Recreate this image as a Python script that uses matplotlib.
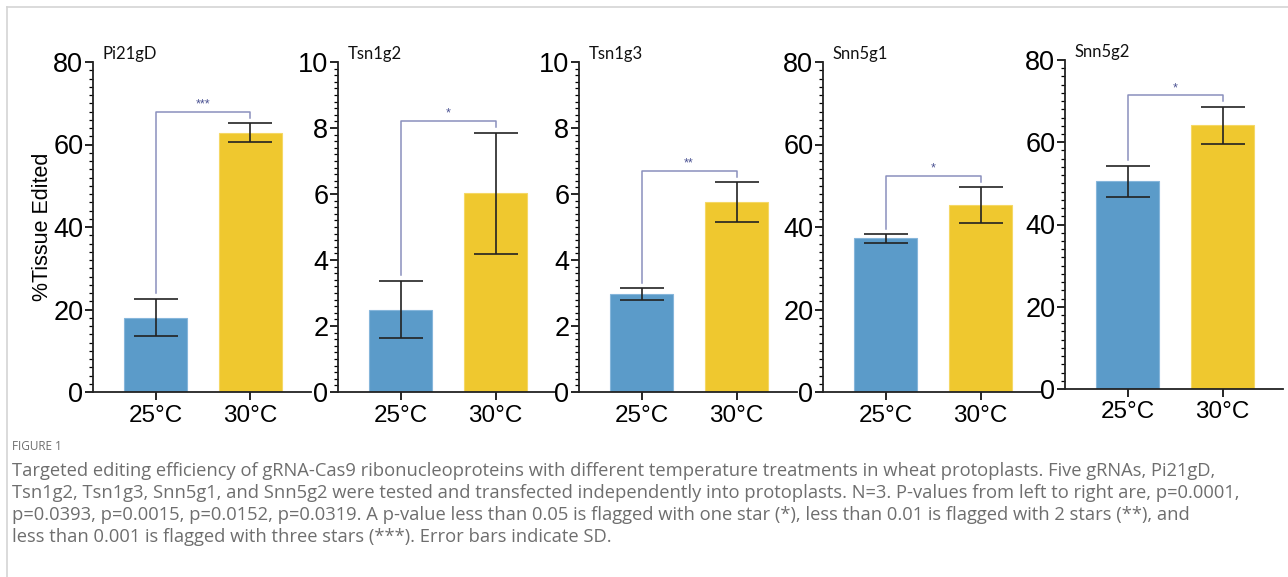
import numpy as np
import matplotlib.pyplot as plt
from matplotlib.ticker import MultipleLocator

# data
genes = ["Pi21gD", "Tsn1g2", "Tsn1g3", "Snn5g1", "Snn5g2"]
temps = ["25°C", "30°C"]
mean_25 = [18.0, 2.5, 2.96, 37.3, 50.5]
mean_30 = [62.8, 6.02, 5.76, 45.3, 64.1]
sd_25 = [4.5, 0.87, 0.18, 1.1, 3.7]
sd_30 = [2.3, 1.84, 0.6, 4.3, 4.45]
ymax = [80, 10, 10, 80, 80]
ymajor = [20, 2, 2, 20, 20]
stars = ["***", "*", "**", "*", "*"]
# bracket: left foot, top, right foot
br_left = [23.9, 3.55, 3.31, 39.5, 55.7]
br_top = [68.0, 8.22, 6.7, 52.4, 71.4]
br_right = [66.4, 8.04, 6.52, 51.0, 70.0]

blue = "#5b9bc9"
yellow = "#efc82f"

W, H = 1288, 577
fig = plt.figure(figsize=(W / 100, H / 100), dpi=100)
plt.rcParams['font.family'] = ['Liberation Sans', 'DejaVu Sans']

# frame lines of the page
fig.add_artist(plt.Line2D([7 / W, 1], [1 - 7 / H, 1 - 7 / H], color="#d4d4d4", lw=1.2))
fig.add_artist(plt.Line2D([7 / W, 7 / W], [0, 1 - 7 / H], color="#d4d4d4", lw=1.2))

lefts = [93, 338, 579, 823, 1065]
tops = [62, 62, 62, 62, 60]
bots = [392, 392, 392, 392, 389]
aw = 218
unit = 95.0
x0 = -62.5 / unit
x1 = (aw - 62.5) / unit

for i, g in enumerate(genes):
    ax = fig.add_axes([lefts[i] / W, 1 - bots[i] / H, aw / W, (bots[i] - tops[i]) / H])
    xs = np.arange(2)
    ax.bar(xs, [mean_25[i], mean_30[i]], width=0.66, color=[blue, yellow],
           edgecolor=["#86b6db", "#f5d865"], linewidth=0.8, zorder=2)
    ax.errorbar(xs, [mean_25[i], mean_30[i]], yerr=[sd_25[i], sd_30[i]], fmt="none",
                ecolor="#222222", elinewidth=1.2, capsize=16, capthick=1.2, zorder=3)
    ax.plot([0, 0, 1, 1], [br_left[i], br_top[i], br_top[i], br_right[i]],
            color="#8a90bd", lw=1.1, zorder=4)
    ax.text(0.5, br_top[i] + ymax[i] * 0.004, stars[i], ha="center", va="bottom",
            fontsize=9, color="#4b5292")
    ax.set_xlim(x0, x1)
    ax.set_ylim(0, ymax[i])
    ax.yaxis.set_major_locator(MultipleLocator(ymajor[i]))
    ax.yaxis.set_minor_locator(MultipleLocator(ymajor[i] / 10))
    ax.set_xticks(xs)
    ax.set_xticklabels(temps)
    for s in ["top", "right"]:
        ax.spines[s].set_visible(False)
    for s in ["left", "bottom"]:
        ax.spines[s].set_linewidth(1.3)
        ax.spines[s].set_color("#222222")
    ax.tick_params(axis="y", which="major", length=6, width=1.2, labelsize=19.5, pad=1)
    ax.tick_params(axis="y", which="minor", length=3, width=0.9)
    ax.tick_params(axis="x", length=6, width=1.2, labelsize=17.5, pad=3)
    ax.patch.set_alpha(0)
    ax.text(0.045, 1.0, g, transform=ax.transAxes, fontsize=12, family="Lato",
            ha="left", va="bottom", color="#111111")
    if i == 0:
        ax.set_ylabel("%Tissue Edited", fontsize=15.5)
        ax.yaxis.set_label_coords(-0.183, 0.5)

# caption
cap_color = "#6e6e6e"
fig.text(12 / W, 1 - 447 / H, "FIGURE 1", fontsize=8.5, family="Open Sans",
         color=cap_color, va="center")
lines = [
    "Targeted editing efficiency of gRNA-Cas9 ribonucleoproteins with different temperature treatments in wheat protoplasts. Five gRNAs, Pi21gD,",
    "Tsn1g2, Tsn1g3, Snn5g1, and Snn5g2 were tested and transfected independently into protoplasts. N=3. P-values from left to right are, p=0.0001,",
    "p=0.0393, p=0.0015, p=0.0152, p=0.0319. A p-value less than 0.05 is flagged with one star (*), less than 0.01 is flagged with 2 stars (**), and",
    "less than 0.001 is flagged with three stars (***). Error bars indicate SD.",
]
for k, t in enumerate(lines):
    fig.text(12 / W, 1 - (471 + k * 22) / H, t, fontsize=13.25, family="Open Sans",
             color=cap_color, va="center")

fig.savefig("out.png", dpi=100)
